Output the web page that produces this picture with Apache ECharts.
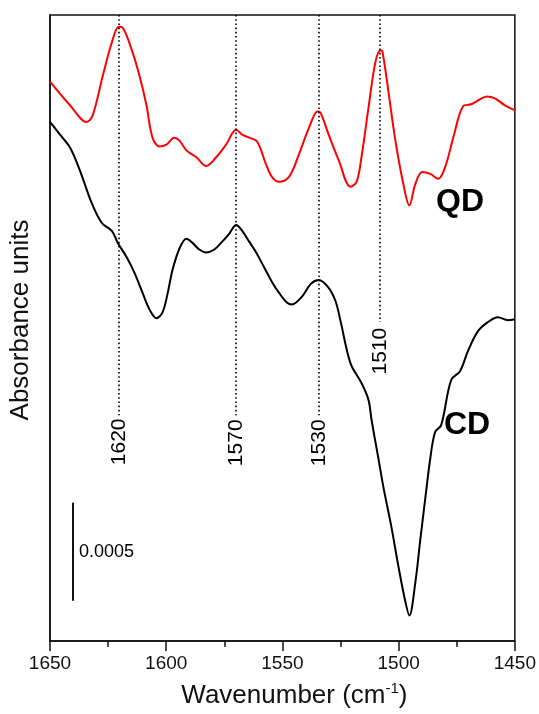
<!DOCTYPE html>
<html>
<head>
<meta charset="utf-8">
<script src="https://cdn.jsdelivr.net/npm/echarts@6/dist/echarts.min.js"></script>
<style>html,body{margin:0;padding:0;background:#fff;}#c{width:539px;height:714px;}</style>
</head>
<body>
<div id="c"></div>
<script>
// Wavenumbers (cm-1) and absorbance (arbitrary offset)
var qdWavenumber = [1650.0,1641.4,1634.2,1631.6,1627.3,1623.4,1620.4,1618.7,1614.9,1611.5,1608.5,1605.9,1602.9,1599.9,1596.5,1594.3,1591.3,1587.0,1582.8,1578.5,1574.2,1569.9,1567.3,1564.3,1560.9,1557.1,1554.5,1551.5,1547.2,1542.9,1538.6,1534.8,1533.5,1530.1,1525.8,1520.7,1518.1,1516.0,1513.0,1510.0,1507.8,1507.0,1504.4,1501.4,1498.0,1495.4,1492.8,1489.8,1486.4,1483.0,1480.0,1476.5,1472.3,1468.8,1465.8,1462.0,1458.6,1454.3,1450.0];
var qdAbsorbance = [0.002850,0.002730,0.002645,0.002680,0.002880,0.003050,0.003130,0.003125,0.003015,0.002880,0.002730,0.002565,0.002520,0.002530,0.002565,0.002550,0.002500,0.002465,0.002420,0.002465,0.002530,0.002605,0.002580,0.002565,0.002545,0.002430,0.002365,0.002340,0.002365,0.002480,0.002615,0.002700,0.002690,0.002580,0.002450,0.002315,0.002340,0.002465,0.002715,0.002950,0.003010,0.003005,0.002800,0.002550,0.002330,0.002220,0.002330,0.002390,0.002380,0.002355,0.002415,0.002565,0.002725,0.002735,0.002755,0.002775,0.002765,0.002730,0.002705];

var cdWavenumber = [1650.0,1645.7,1641.4,1637.2,1632.0,1627.7,1623.4,1620.9,1617.0,1613.6,1610.2,1607.2,1604.2,1601.6,1599.5,1597.3,1594.3,1591.3,1588.8,1585.8,1582.8,1579.3,1576.3,1572.9,1569.9,1567.3,1564.3,1561.3,1557.9,1554.5,1551.5,1548.1,1545.9,1541.6,1537.8,1534.4,1530.1,1527.1,1525.0,1520.7,1516.0,1513.0,1511.7,1510.0,1508.7,1506.5,1503.1,1500.1,1497.1,1495.4,1492.8,1490.7,1488.5,1486.4,1484.3,1481.7,1477.4,1473.6,1470.1,1465.8,1461.6,1457.3,1453.0,1450.0];
var cdAbsorbance = [0.002645,0.002580,0.002515,0.002400,0.002230,0.002130,0.002090,0.002030,0.001955,0.001875,0.001775,0.001690,0.001645,0.001675,0.001765,0.001890,0.002000,0.002050,0.002030,0.001995,0.001980,0.001995,0.002030,0.002075,0.002120,0.002090,0.002035,0.001980,0.001905,0.001830,0.001775,0.001725,0.001715,0.001755,0.001820,0.001840,0.001800,0.001730,0.001630,0.001415,0.001315,0.001230,0.001130,0.001015,0.000930,0.000780,0.000580,0.000380,0.000200,0.000130,0.000300,0.000515,0.000730,0.000930,0.001065,0.001100,0.001330,0.001375,0.001480,0.001580,0.001625,0.001650,0.001635,0.001640];

var markerPositions = [1620.4, 1570.0, 1534.2, 1508.0];
var markerLabels = ['1620', '1570', '1530', '1510'];
var markerLineBottom = [0.00115, 0.00115, 0.00115, 0.001625];
var markerLabelCenter = [0.001015, 0.00101, 0.00101, 0.0014775];

var xTicks = [1650, 1600, 1550, 1500, 1450];
var scaleBarWavenumber = 1640.1;
var scaleBarFrom = 0.000205;
var scaleBarSize = 0.0005;
var scaleBarLabel = '0.0005';

var seriesNames = ['QD', 'CD'];
var seriesLabelPos = [[1473.6, 0.002235], [1470.6, 0.0011]];

var yTop = 0.00319;
var FONT = 'Liberation Sans, Arial, Helvetica, sans-serif';

function zip(a, b) { return a.map(function (v, i) { return [v, b[i]]; }); }

var chart = echarts.init(document.getElementById('c'), null, {renderer: 'canvas'});

var markLineData = markerPositions.map(function (p, i) {
  return [{coord: [p, yTop]}, {coord: [p, markerLineBottom[i]]}];
});

var option = {
  animation: false,
  backgroundColor: '#fff',
  grid: {left: 50, right: 22, top: 15, bottom: 61, show: true, borderColor: '#111', borderWidth: 1.5, backgroundColor: 'transparent'},
  xAxis: {
    type: 'value', inverse: true, min: 1450, max: 1650, interval: 50,
    axisLine: {show: true, onZero: false, lineStyle: {color: '#111', width: 1.5}},
    axisTick: {show: true, inside: false, length: 10, lineStyle: {color: '#111', width: 1.5}},
    minorTick: {show: true, splitNumber: 2, length: 6, lineStyle: {color: '#111', width: 1.5}},
    splitLine: {show: false},
    axisLabel: {color: '#111', fontSize: 19, fontFamily: FONT, margin: 13,
      formatter: function (v) { return xTicks.indexOf(v) >= 0 ? String(v) : ''; }},
    name: '{n|Wavenumber (cm}{s|-1}{n|)}',
    nameLocation: 'middle', nameGap: 40,
    nameTextStyle: {padding: [0, 0, 0, 24], rich: {
      n: {fontSize: 26, fontFamily: FONT, color: '#111', lineHeight: 30},
      s: {fontSize: 15, fontFamily: FONT, color: '#111', verticalAlign: 'top', lineHeight: 30, padding: [0, 0, 10, 0]}
    }}
  },
  yAxis: {
    type: 'value', min: 0, max: yTop,
    axisLine: {show: true, lineStyle: {color: '#111', width: 1.5}},
    axisTick: {show: false}, axisLabel: {show: false}, splitLine: {show: false},
    name: 'Absorbance units', nameLocation: 'middle', nameGap: 16, nameRotate: 90,
    nameTextStyle: {fontSize: 26, fontFamily: FONT, color: '#111', padding: [0, 0, 0, 16]}
  },
  series: [
    {
      name: seriesNames[0], type: 'line', data: zip(qdWavenumber, qdAbsorbance),
      showSymbol: false, symbol: 'none', smooth: 0.35,
      lineStyle: {color: '#ff0000', width: 2}, z: 3
    },
    {
      name: seriesNames[1], type: 'line', data: zip(cdWavenumber, cdAbsorbance),
      showSymbol: false, symbol: 'none', smooth: 0.35,
      lineStyle: {color: '#000000', width: 2}, z: 3,
      markLine: {
        silent: true, symbol: 'none', animation: false,
        label: {show: false},
        lineStyle: {color: '#000', width: 1.6, type: [1.6, 2.6]},
        data: markLineData
      }
    },
    {
      type: 'scatter', symbolSize: 0, silent: true, itemStyle: {opacity: 1},
      data: markerPositions.map(function (p, i) { return {value: [p, markerLabelCenter[i]], name: markerLabels[i]}; }),
      label: {show: true, position: 'inside', rotate: 90, formatter: '{b}', fontSize: 21, fontFamily: FONT, color: '#000', opacity: 1, align: 'center', verticalAlign: 'middle'}
    },
    {
      type: 'line', silent: true, symbol: 'none', showSymbol: false,
      data: [[scaleBarWavenumber, scaleBarFrom], [scaleBarWavenumber, scaleBarFrom + scaleBarSize]],
      lineStyle: {color: '#111', width: 2}
    },
    {
      type: 'scatter', symbolSize: 0, silent: true, itemStyle: {opacity: 1},
      data: [{value: [scaleBarWavenumber, scaleBarFrom + scaleBarSize / 2], name: scaleBarLabel}],
      label: {show: true, position: 'right', distance: 6, formatter: '{b}', fontSize: 18, fontFamily: FONT, color: '#000', opacity: 1}
    },
    {
      type: 'scatter', symbolSize: 0, silent: true, itemStyle: {opacity: 1},
      data: seriesNames.map(function (n, i) { return {value: seriesLabelPos[i], name: n}; }),
      label: {show: true, position: 'inside', formatter: '{b}', fontSize: 32, fontWeight: 'bold', fontFamily: FONT, color: '#000', opacity: 1, align: 'center', verticalAlign: 'middle'}
    }
  ]
};
chart.setOption(option);
</script>
</body>
</html>
